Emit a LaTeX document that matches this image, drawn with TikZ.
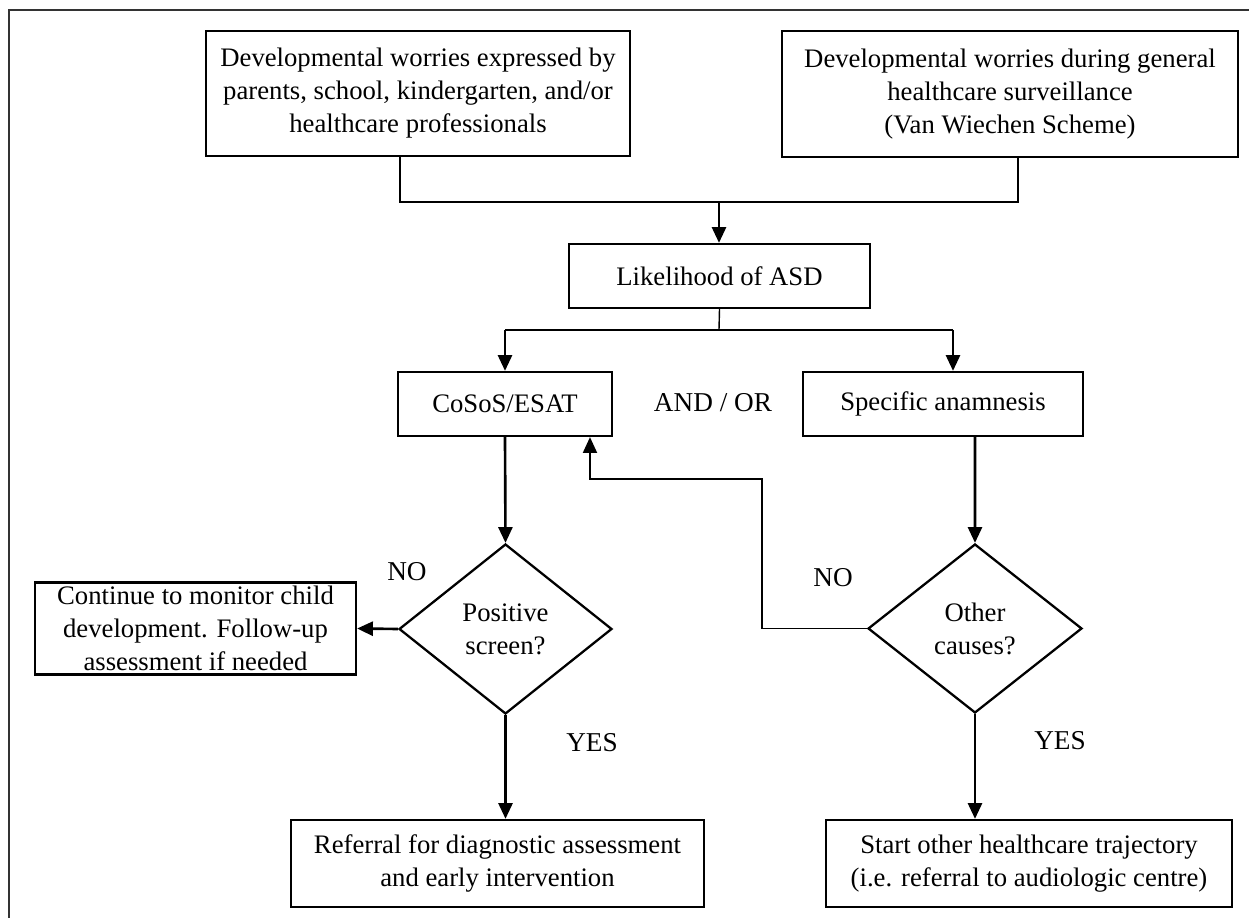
\documentclass[tikz,border=0pt]{standalone}
\usepackage{fontspec}
\setmainfont{Liberation Serif}
\usetikzlibrary{shapes.geometric, arrows.meta, calc}
\tikzset{
  box/.style={
    rectangle, draw, line width=1.3pt, align=center,
    inner sep=2pt, font=\fontsize{15.2}{18.8}\selectfont
  },
  dec/.style={
    diamond, draw, line width=1.3pt, align=center,
    inner sep=0pt, font=\fontsize{15.2}{18.8}\selectfont
  },
  arr/.style={-{Triangle[length=9pt,width=8pt]}, line width=1.5pt},
  ln/.style={line width=0.8pt},
  lbl/.style={font=\fontsize{15.5}{18}\selectfont, inner sep=0pt}
}

\begin{document}
\begin{tikzpicture}[x=0.02cm, y=-0.02cm]

  \useasboundingbox (0,0) rectangle (1249,918);
  \draw[line width=0.7pt, black!80] (9,918) -- (9,10) -- (1249,10);

  %% top row
  \node[box, minimum width=8.48cm, minimum height=2.5cm] (wpar) at (418,93.5)
        {Developmental worries expressed by\\parents, school, kindergarten, and/or\\healthcare professionals};
  \node[box, minimum width=9.12cm, minimum height=2.52cm] (wsur) at (1010,94)
        {Developmental worries during general\\healthcare surveillance\\(Van Wiechen Scheme)};

  \node[box, minimum width=6.02cm, minimum height=1.28cm] (lik) at (719.5,276)
        {Likelihood of ASD};

  %% screening
  \node[box, minimum width=4.28cm, minimum height=1.28cm] (cosos) at (505,404)
        {CoSoS/ESAT};
  \node[box, minimum width=5.6cm, minimum height=1.28cm] (anam) at (943,404)
        {Specific anamnesis};
  \node[lbl] (andor) at (713,403) {AND / OR};

  %% decisions
  \node[dec, minimum width=4.26cm, minimum height=3.4cm] (pos) at (505.5,629)
        {Positive\\screen?};
  \node[dec, minimum width=4.28cm, minimum height=3.38cm] (oth) at (975,628.5)
        {Other\\causes?};

  %% outcomes
  \node[box, minimum width=6.42cm, minimum height=1.74cm] (cont) at (195.5,628.5)
        {Continue to monitor child\\development. Follow-up\\assessment if needed};
  \node[box, minimum width=8.26cm, minimum height=1.74cm] (ref) at (497.5,863.5)
        {Referral for diagnostic assessment\\and early intervention};
  \node[box, minimum width=8.12cm, minimum height=1.74cm] (start) at (1029,863.5)
        {Start other healthcare trajectory\\(i.e. referral to audiologic centre)};

  \node[lbl] (nol)  at (407,572)  {NO};
  \node[lbl] (nor)  at (833,578)  {NO};
  \node[lbl] (yesl) at (592,743)  {YES};
  \node[lbl] (yesr) at (1060,741) {YES};

  %% connectors
  \coordinate (join)   at (719,202);
  \coordinate (split)  at (719,330);
  \coordinate (splitl) at (505,330);
  \coordinate (splitr) at (953,330);
  \coordinate (back)   at (762,479);

  \draw[ln] ([xshift=-0.36cm]wpar.south) |- (join) -| ([xshift=0.16cm]wsur.south);
  \draw[arr] (join) -- (join |- lik.north);

  \draw[ln] (lik.south) -- (split);
  \draw[ln] (splitl) -- (splitr);
  \draw[arr] (splitl) -- (splitl |- cosos.north);
  \draw[arr] (splitr) -- (splitr |- anam.north);

  \draw[arr] (cosos.south) -- (pos.north);
  \draw[arr] (pos.west) -- (cont.east);
  \draw[arr] (pos.south) -- (pos.south |- ref.north);

  \draw[arr] ([xshift=0.64cm]anam.south) -- (oth.north);
  \draw[arr] (oth.south) -- (oth.south |- start.north);
  \draw[arr, line width=1pt] (oth.west) -| (back) -| ([xshift=1.7cm]cosos.south);

\end{tikzpicture}
\end{document}
